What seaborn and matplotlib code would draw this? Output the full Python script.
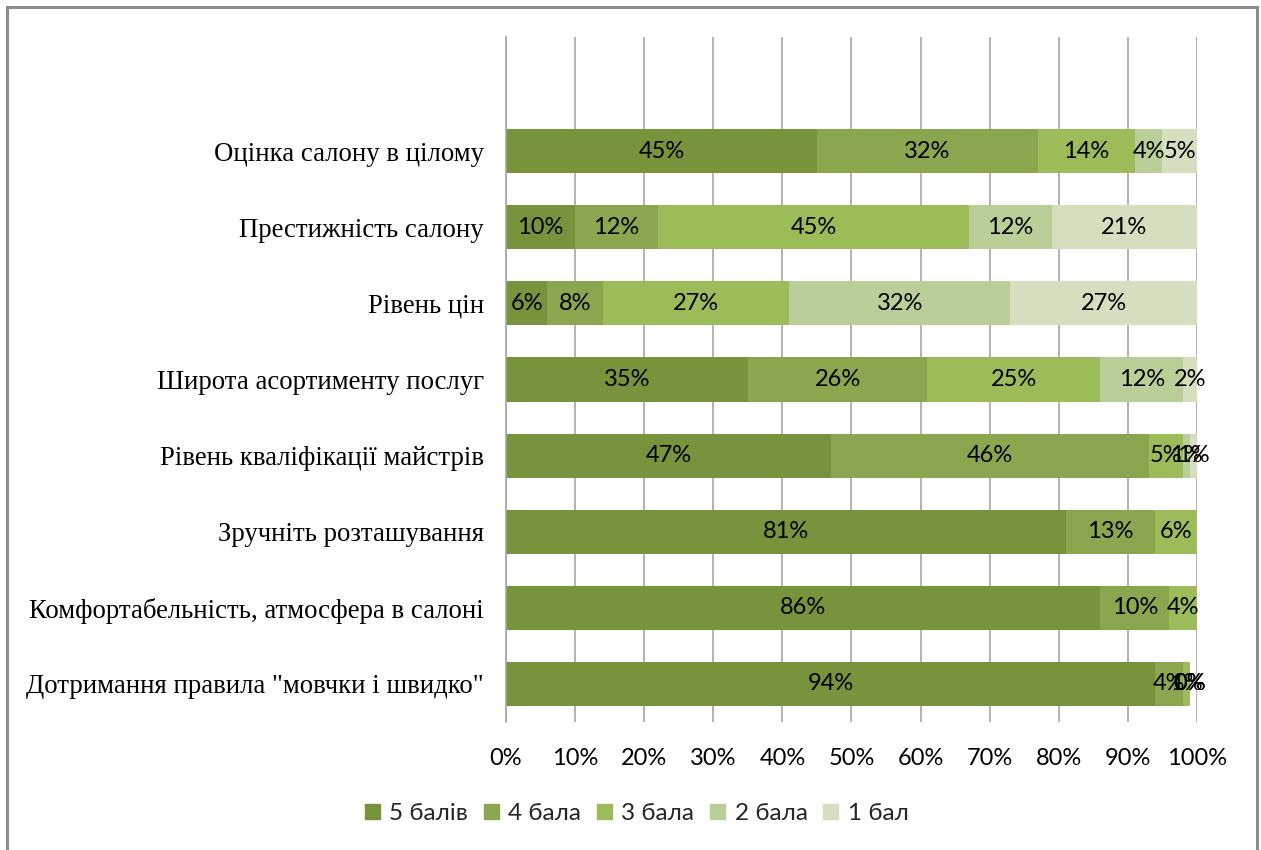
import numpy as np
import pandas as pd
import matplotlib
matplotlib.use("Agg")
import matplotlib.pyplot as plt
from matplotlib.patches import Rectangle
import seaborn as sns

categories = [
    "Оцінка салону в цілому",
    "Престижність салону",
    "Рівень цін",
    "Широта асортименту послуг",
    "Рівень кваліфікації майстрів",
    "Зручніть розташування",
    "Комфортабельність, атмосфера в салоні",
    "Дотримання правила \"мовчки і швидко\"",
]
series_names = ["5 балів", "4 бала", "3 бала", "2 бала", "1 бал"]

score_5 = [45, 10, 6, 35, 47, 81, 86, 94]
score_4 = [32, 12, 8, 26, 46, 13, 10, 4]
score_3 = [14, 45, 27, 25, 5, 6, 4, 1]
score_2 = [4, 12, 32, 12, 1, np.nan, np.nan, 0]
score_1 = [5, 21, 27, 2, 1, np.nan, np.nan, 0]

colors = ["#77933C", "#8AA64F", "#9CBB59", "#BACF97", "#D3DFBF"]

sns.set_theme(style="white")
plt.rcParams["font.family"] = ["Lato", "DejaVu Sans"]

series = [score_5, score_4, score_3, score_2, score_1]
df = pd.DataFrame({name: vals for name, vals in zip(series_names, series)})
df.insert(0, "category", categories)
values = df[series_names].fillna(0).to_numpy() / 100.0
cum = np.cumsum(values, axis=1)

fig = plt.figure(figsize=(12.61, 8.5), dpi=100)
ax = fig.add_axes([0.4013, 0.1506, 0.9492 - 0.4013, 0.9565 - 0.1506])

# stacked bars: draw cumulative totals from outermost to innermost
for j in range(len(series_names) - 1, -1, -1):
    plot_df = pd.DataFrame({"category": categories, "value": cum[:, j]})
    sns.barplot(data=plot_df, x="value", y="category", order=categories,
                orient="h", color=colors[j], saturation=1, width=0.58,
                edgecolor="none", linewidth=0, ax=ax, zorder=2)

# value labels centred in each segment
raw = df[series_names].to_numpy()
for i in range(len(categories)):
    for j in range(len(series_names)):
        v = raw[i, j]
        if np.isnan(v):
            continue
        start = cum[i, j] - values[i, j]
        ax.text(start + values[i, j] / 2, i, f"{int(round(v))}%",
                ha="center", va="center", fontsize=17, color="black",
                zorder=4)

ax.set_xlim(0, 1.0)
ax.set_ylim(len(categories) - 0.5, -1.5)
ax.set_xticks(np.linspace(0, 1, 11))
ax.set_xticklabels([f"{p}%" for p in range(0, 101, 10)], fontsize=17)
ax.set_xlabel("")
ax.set_ylabel("")
ax.set_yticks(range(len(categories)))
ax.set_yticklabels(categories, fontsize=19.3, family=["Liberation Serif", "DejaVu Serif"])
ax.tick_params(axis="x", length=0, pad=19, colors="black")
ax.tick_params(axis="y", length=0, pad=16, colors="black")

ax.grid(axis="x", color="#A6A6A6", linewidth=1.2, zorder=0)
ax.set_axisbelow(True)
for side in ["top", "right", "bottom"]:
    ax.spines[side].set_visible(False)
ax.spines["left"].set_color("#A6A6A6")
ax.spines["left"].set_linewidth(1.2)

handles = [Rectangle((0, 0), 1, 1, color=c) for c in colors]
fig.legend(handles, series_names, loc="center", bbox_to_anchor=(0.505, 0.043),
           ncol=5, frameon=False, fontsize=17.5, handlelength=0.6,
           handleheight=0.6, handletextpad=0.4, columnspacing=0.65)

# outer chart border
fig.add_artist(Rectangle((7 / 1261, -0.01), 1250 / 1261, 1 - 7 / 850 + 0.01,
                         transform=fig.transFigure, fill=False,
                         edgecolor="#8C8C8C", linewidth=2.2))

fig.savefig("out.png", dpi=100)
